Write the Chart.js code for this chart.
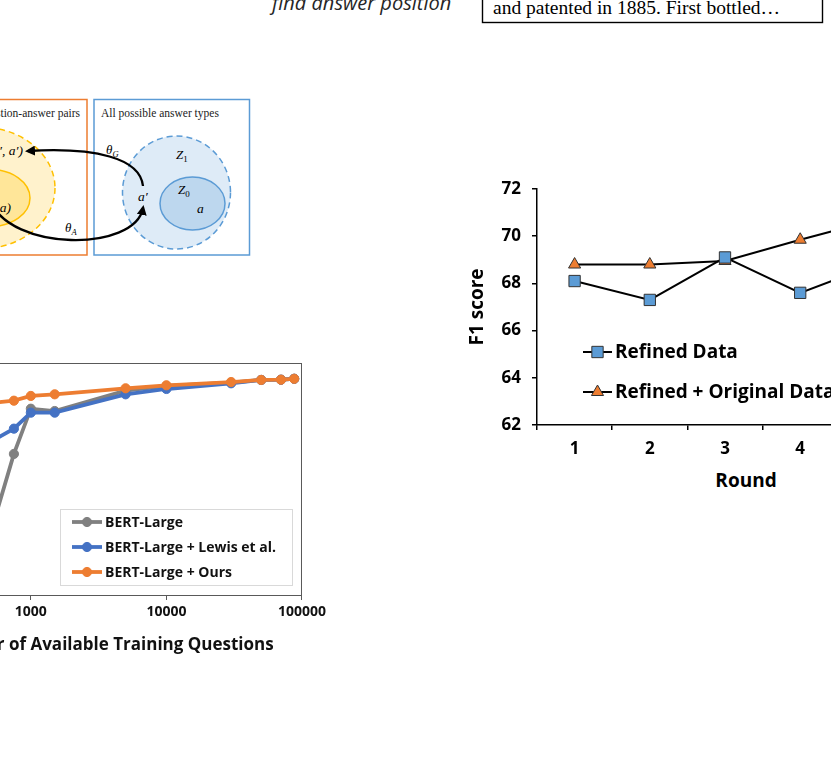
<!DOCTYPE html>
<html>
<head>
<meta charset="utf-8">
<script src="https://cdn.jsdelivr.net/npm/chart.js@4.4.0/dist/chart.umd.min.js"></script>
<style>
  body { margin:0; width:831px; height:775px; overflow:hidden; position:relative; background:#fff; font-family:'Open Sans', sans-serif; }
  .abs { position:absolute; }
  #leftWrap { left:-200px; top:340px; width:530px; height:315px; }
  #rightWrap { left:462px; top:160px; width:460px; height:300px; }
  #roundTitle { left:746px; top:480px; transform:translate(-50%,-50%); font-weight:bold; font-size:19px; color:#000; white-space:nowrap; }
  svg text { white-space:pre; }
</style>
</head>
<body>

<!-- schematic above the charts -->
<svg class="abs" style="left:0;top:0" width="831" height="270">
  <defs>
    <marker id="ah" markerWidth="10" markerHeight="10" refX="7" refY="5" orient="auto" markerUnits="userSpaceOnUse">
      <path d="M0,0 L10,5 L0,10 z" fill="#000"/>
    </marker>
  </defs>
  <text x="272" y="10" font-family="Open Sans" font-style="italic" font-size="20" fill="#262626">find answer position</text>
  <rect x="482.5" y="-20" width="340" height="42.5" fill="none" stroke="#000" stroke-width="1.4"/>
  <text x="493" y="14" font-family="Liberation Serif" font-size="19.5" fill="#000">and patented in 1885. First bottled…</text>

  <rect x="-50" y="99.5" width="137" height="155.5" fill="none" stroke="#ED7D31" stroke-width="1.5"/>
  <text x="80" y="117" text-anchor="end" font-family="Liberation Serif" font-size="11.5" fill="#222">All question-answer pairs</text>
  <ellipse cx="-20" cy="188" rx="75" ry="61" fill="#FFF2CC" stroke="#FFC000" stroke-width="1.5" stroke-dasharray="6 4"/>
  <ellipse cx="-10" cy="198" rx="40" ry="28.5" fill="#FFE699" stroke="#FFC000" stroke-width="1.5"/>
  <text x="23" y="155" text-anchor="end" font-family="Liberation Serif" font-style="italic" font-size="13.5" fill="#000">(q′, a′)</text>
  <text x="11" y="212" text-anchor="end" font-family="Liberation Serif" font-style="italic" font-size="13.5" fill="#000">(q, a)</text>

  <rect x="94" y="99.5" width="155.5" height="155.5" fill="none" stroke="#5B9BD5" stroke-width="1.5"/>
  <text x="101" y="117" font-family="Liberation Serif" font-size="11.5" fill="#222">All possible answer types</text>
  <ellipse cx="176.5" cy="192.5" rx="54" ry="56.5" fill="#DEEBF7" stroke="#5B9BD5" stroke-width="1.5" stroke-dasharray="6 4"/>
  <ellipse cx="192.5" cy="203.5" rx="32.5" ry="26.5" fill="#BDD7EE" stroke="#5B9BD5" stroke-width="1.5"/>
  <text x="176" y="159" font-family="Liberation Serif" font-style="italic" font-size="13">Z<tspan font-style="normal" font-size="9" dy="3">1</tspan></text>
  <text x="178" y="194" font-family="Liberation Serif" font-style="italic" font-size="13">Z<tspan font-style="normal" font-size="9" dy="3">0</tspan></text>
  <text x="197" y="213" font-family="Liberation Serif" font-style="italic" font-size="13.5">a</text>
  <text x="138" y="201" font-family="Liberation Serif" font-style="italic" font-size="13.5">a′</text>
  <text x="106" y="154" font-family="Liberation Serif" font-style="italic" font-size="13">θ<tspan font-size="8.5" dy="3">G</tspan></text>
  <text x="65" y="232" font-family="Liberation Serif" font-style="italic" font-size="13">θ<tspan font-size="8.5" dy="3">A</tspan></text>
  <path d="M143,186 C140,158 95,147 28,151" fill="none" stroke="#000" stroke-width="2.3" marker-end="url(#ah)"/>
  <path d="M-10,200 C10,252 135,252 143,208" fill="none" stroke="#000" stroke-width="2.3" marker-end="url(#ah)"/>
</svg>

<div id="leftWrap" class="abs"><canvas id="leftChart"></canvas></div>
<div id="rightWrap" class="abs"><canvas id="rightChart"></canvas></div>
<div id="roundTitle" class="abs">Round</div>

<script>
// ---- data: training size curve (left) ----
const trainSizes = [500, 750, 1000, 1500, 5000, 10000, 30000, 50000, 70000, 87599];
const bertLarge  = [26.0, 60.8, 80.3, 79.3, 88.1, 90.1, 91.5, 92.7, 92.8, 93.2];
const bertLewis  = [65.9, 71.7, 78.6, 78.6, 86.5, 88.8, 91.25, 92.7, 92.8, 93.2];
const bertOurs   = [82.7, 83.75, 85.8, 86.5, 89.1, 90.4, 91.8, 92.7, 92.8, 93.2];
const sizeTicks  = [1000, 10000, 100000];

// ---- data: refinement rounds (right) ----
const rounds        = ['1', '2', '3', '4', '5'];
const refinedData   = [68.1, 67.3, 69.1, 67.6, 68.8];
const refinedOrig   = [68.8, 68.8, 68.95, 69.85, 70.7];

const FONT = "'Open Sans', sans-serif";

function drawMarker(ctx, style, r, x, y){
  ctx.beginPath();
  if(style === 'rect'){
    const s = r * Math.SQRT1_2;
    ctx.rect(x - s, y - s, 2*s, 2*s);
  } else if(style === 'triangle'){
    for(let k=0;k<3;k++){
      const a = k * 2*Math.PI/3;
      const px = x + Math.sin(a)*r, py = y - Math.cos(a)*r;
      k ? ctx.lineTo(px, py) : ctx.moveTo(px, py);
    }
    ctx.closePath();
  } else {
    ctx.arc(x, y, r, 0, Math.PI*2);
  }
  ctx.fill();
  ctx.stroke();
}

// legend drawn inside the plot, from the datasets themselves
const insideLegend = {
  id: 'insideLegend',
  afterDatasetsDraw(chart, args, o){
    if(!o || !o.items) return;
    const ctx = chart.ctx;
    ctx.save();
    if(o.box){
      const [x0,y0,x1,y1] = o.box;
      ctx.fillStyle = '#fff'; ctx.strokeStyle = '#d9d9d9'; ctx.lineWidth = 1;
      ctx.fillRect(x0-o.ox, y0-o.oy, x1-x0, y1-y0);
      ctx.strokeRect(x0-o.ox+0.5, y0-o.oy+0.5, x1-x0, y1-y0);
    }
    ctx.font = o.font;
    ctx.textBaseline = 'middle';
    chart.data.datasets.forEach((ds, i) => {
      const y = o.y + i*o.dy - o.oy;
      const x = o.x - o.ox;
      ctx.strokeStyle = ds.borderColor; ctx.lineWidth = ds.borderWidth;
      ctx.beginPath(); ctx.moveTo(x, y); ctx.lineTo(x + o.len, y); ctx.stroke();
      ctx.fillStyle = ds.pointBackgroundColor; ctx.strokeStyle = ds.pointBorderColor;
      ctx.lineWidth = ds.pointBorderWidth;
      drawMarker(ctx, ds.pointStyle, ds.pointRadius, x + o.len/2, y);
      ctx.fillStyle = o.color;
      ctx.fillText(ds.label, x + o.len + o.gap, y + 1);
    });
    ctx.restore();
  }
};

const plotBox = {
  id: 'plotBox',
  beforeDatasetsDraw(chart, args, o){
    if(!o || !o.color) return;
    const {left, top, right, bottom} = chart.chartArea;
    const ctx = chart.ctx;
    ctx.save();
    ctx.strokeStyle = o.color; ctx.lineWidth = 1;
    ctx.strokeRect(left, top + 0.5, right - left - 0.5, bottom - top);
    ctx.restore();
  }
};

// ---------- left chart ----------
function lineSet(label, data, color, order){
  return {
    label, order,
    data: trainSizes.map((x, i) => ({x, y: data[i]})),
    borderColor: color, backgroundColor: color,
    borderWidth: 3.8, pointRadius: 4.6, pointStyle: 'circle',
    pointBackgroundColor: color, pointBorderColor: color, pointBorderWidth: 1,
    tension: 0
  };
}

new Chart(document.getElementById('leftChart'), {
  type: 'line',
  data: {
    datasets: [
      lineSet('BERT-Large', bertLarge, '#808080', 3),
      lineSet('BERT-Large + Lewis et al.', bertLewis, '#4472C4', 2),
      lineSet('BERT-Large + Ours', bertOurs, '#ED7D31', 1)
    ]
  },
  options: {
    responsive: true, maintainAspectRatio: false, animation: false,
    layout: { padding: { left: 0, top: 23, right: 26, bottom: 0 } },
    plugins: {
      legend: { display: false }, tooltip: { enabled: false },
      plotBox: { color: '#595959' },
      insideLegend: {
        items: true, ox: -200, oy: 340,
        box: [60, 509, 292, 585],
        x: 72, y: 522, dy: 25, len: 30, gap: 3,
        font: 'bold 14px ' + FONT, color: '#111'
      }
    },
    scales: {
      x: {
        type: 'logarithmic', min: 120, max: 100000,
        afterBuildTicks: s => { s.ticks = sizeTicks.map(v => ({ value: v, major: true })); },
        afterFit: s => { s.height = 60; },
        ticks: { callback: v => String(v), font: { family: FONT, size: 14, weight: 'bold' }, color: '#111', padding: 4, maxRotation: 0 },
        grid: { drawOnChartArea: false, drawTicks: true, tickLength: 5, color: '#595959' },
        border: { display: false },
        title: { display: true, text: 'Number of Available Training Questions', color: '#111',
                 font: { family: FONT, size: 17, weight: 'bold' }, padding: { top: 0, bottom: 0 } }
      },
      y: {
        min: 0, max: 100,
        afterFit: s => { s.width = 106; },
        ticks: { display: false },
        grid: { display: false },
        border: { display: false }
      }
    }
  },
  plugins: [plotBox, insideLegend]
});

// ---------- right chart ----------
new Chart(document.getElementById('rightChart'), {
  type: 'line',
  data: {
    labels: rounds,
    datasets: [
      { label: 'Refined Data', data: refinedData, borderColor: '#000', borderWidth: 2,
        pointStyle: 'rect', pointRadius: 8, pointBackgroundColor: '#5B9BD5', pointBorderColor: '#333', pointBorderWidth: 1, tension: 0 },
      { label: 'Refined + Original Data', data: refinedOrig, borderColor: '#000', borderWidth: 2,
        pointStyle: 'triangle', pointRadius: 7, pointBackgroundColor: '#ED7D31', pointBorderColor: '#333', pointBorderWidth: 1, tension: 0 }
    ]
  },
  options: {
    responsive: true, maintainAspectRatio: false, animation: false,
    layout: { padding: { left: 0.6, top: 29, right: 8, bottom: 0 } },
    plugins: {
      legend: { display: false }, tooltip: { enabled: false },
      insideLegend: {
        items: true, ox: 462, oy: 160,
        x: 583, y: 352, dy: 40, len: 29, gap: 3,
        font: 'bold 19px ' + FONT, color: '#000'
      }
    },
    scales: {
      x: {
        offset: true,
        afterFit: s => { s.height = 35; },
        ticks: { font: { family: FONT, size: 17, weight: 'bold' }, color: '#000', padding: 9 },
        grid: { offset: true, drawOnChartArea: false, drawTicks: true, tickLength: 5, color: '#000', lineWidth: 1.5 },
        border: { display: true, color: '#000', width: 1.5 }
      },
      y: {
        min: 62, max: 72,
        afterFit: s => { s.width = 74.4; },
        ticks: { stepSize: 2, font: { family: FONT, size: 17, weight: 'bold' }, color: '#000', padding: 11 },
        grid: { drawOnChartArea: false, drawTicks: true, tickLength: 5, color: '#000', lineWidth: 1.5 },
        border: { display: true, color: '#000', width: 1.5 },
        title: { display: true, text: 'F1 score', color: '#000',
                 font: { family: FONT, size: 19, weight: 'bold' }, padding: { top: 4, bottom: 4 } }
      }
    }
  },
  plugins: [insideLegend]
});
</script>
</body>
</html>
